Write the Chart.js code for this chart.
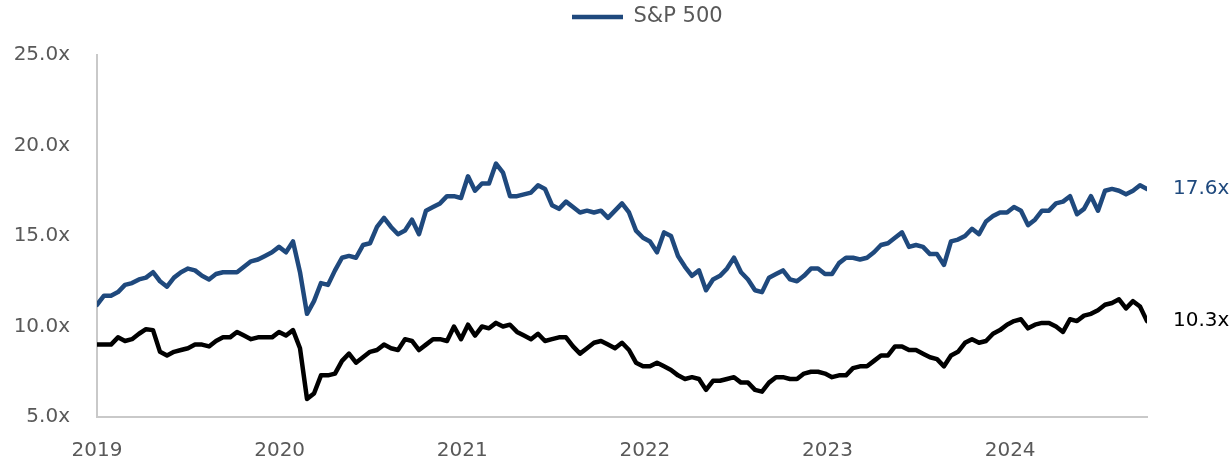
<!DOCTYPE html>
<html>
<head>
<meta charset="utf-8">
<script src="https://cdn.jsdelivr.net/npm/chart.js@4.4.1/dist/chart.umd.min.js"></script>
<style>
  html, body { margin: 0; padding: 0; background: #ffffff; }
  canvas { display: block; }
</style>
</head>
<body>
<canvas id="chart" width="1232" height="465"></canvas>
<script>
// ---------------- DATA ----------------
const seriesNames = ['S&P 500', 'Series 2'];
const startYear = 2019;          // first observation (start of 2019)
const stepDays = 14;             // bi-weekly observations
const yearTicks = [2019, 2020, 2021, 2022, 2023, 2024];
const yTickValues = [5, 10, 15, 20, 25];

// S&P 500 forward P/E (blue)
const spx = [
  11.2, 11.7, 11.7, 11.9, 12.3, 12.4, 12.6, 12.7, 13.0, 12.5,
  12.2, 12.7, 13.0, 13.2, 13.1, 12.8, 12.6, 12.9, 13.0, 13.0,
  13.0, 13.3, 13.6, 13.7, 13.9, 14.1, 14.4, 14.1, 14.7, 13.0,
  10.7, 11.4, 12.4, 12.3, 13.1, 13.8, 13.9, 13.8, 14.5, 14.6,
  15.5, 16.0, 15.5, 15.1, 15.3, 15.9, 15.1, 16.4, 16.6, 16.8,
  17.2, 17.2, 17.1, 18.3, 17.5, 17.9, 17.9, 19.0, 18.5, 17.2,
  17.2, 17.3, 17.4, 17.8, 17.6, 16.7, 16.5, 16.9, 16.6, 16.3,
  16.4, 16.3, 16.4, 16.0, 16.4, 16.8, 16.3, 15.3, 14.9, 14.7,
  14.1, 15.2, 15.0, 13.9, 13.3, 12.8, 13.1, 12.0, 12.6, 12.8,
  13.2, 13.8, 13.0, 12.6, 12.0, 11.9, 12.7, 12.9, 13.1, 12.6,
  12.5, 12.8, 13.2, 13.2, 12.9, 12.9, 13.5, 13.8, 13.8, 13.7,
  13.8, 14.1, 14.5, 14.6, 14.9, 15.2, 14.4, 14.5, 14.4, 14.0,
  14.0, 13.4, 14.7, 14.8, 15.0, 15.4, 15.1, 15.8, 16.1, 16.3,
  16.3, 16.6, 16.4, 15.6, 15.9, 16.4, 16.4, 16.8, 16.9, 17.2,
  16.2, 16.5, 17.2, 16.4, 17.5, 17.6, 17.5, 17.3, 17.5, 17.8,
  17.6
];

// second series (black)
const other = [
  9.0, 9.0, 9.0, 9.4, 9.2, 9.3, 9.6, 9.85, 9.8, 8.6,
  8.4, 8.6, 8.7, 8.8, 9.0, 9.0, 8.9, 9.2, 9.4, 9.4,
  9.7, 9.5, 9.3, 9.4, 9.4, 9.4, 9.7, 9.5, 9.8, 8.8,
  6.0, 6.3, 7.3, 7.3, 7.4, 8.1, 8.5, 8.0, 8.3, 8.6,
  8.7, 9.0, 8.8, 8.7, 9.3, 9.2, 8.7, 9.0, 9.3, 9.3,
  9.2, 10.0, 9.3, 10.1, 9.5, 10.0, 9.9, 10.2, 10.0, 10.1,
  9.7, 9.5, 9.3, 9.6, 9.2, 9.3, 9.4, 9.4, 8.9, 8.5,
  8.8, 9.1, 9.2, 9.0, 8.8, 9.1, 8.7, 8.0, 7.8, 7.8,
  8.0, 7.8, 7.6, 7.3, 7.1, 7.2, 7.1, 6.5, 7.0, 7.0,
  7.1, 7.2, 6.9, 6.9, 6.5, 6.4, 6.9, 7.2, 7.2, 7.1,
  7.1, 7.4, 7.5, 7.5, 7.4, 7.2, 7.3, 7.3, 7.7, 7.8,
  7.8, 8.1, 8.4, 8.4, 8.9, 8.9, 8.7, 8.7, 8.5, 8.3,
  8.2, 7.8, 8.4, 8.6, 9.1, 9.3, 9.1, 9.2, 9.6, 9.8,
  10.1, 10.3, 10.4, 9.9, 10.1, 10.2, 10.2, 10.0, 9.7, 10.4,
  10.3, 10.6, 10.7, 10.9, 11.2, 11.3, 11.5, 11.0, 11.4, 11.1,
  10.3
];

// observation dates expressed as fractional years
const periods = spx.map((_, i) => startYear + i * stepDays / 365.25);

// ---------------- STYLE ----------------
const FONT = "'DejaVu Sans', 'Liberation Sans', sans-serif";
const BLUE = '#1F497D';
const BLACK = '#000000';
const GREY_TEXT = '#595959';
const AXIS_GREY = '#c9c9c9';

const toPoints = arr => arr.map((v, i) => ({ x: periods[i], y: v }));

// legend: extra space below it, and horizontal placement as in the reference
const legendTweaks = {
  id: 'legendTweaks',
  beforeUpdate(chart) {
    const L = chart.legend;
    if (L && !L._fitPatched) {
      const orig = L.fit;
      L.fit = function () { orig.call(this); if (this.height) this.height += 17.5; };
      L._fitPatched = true;
    }
  },
  afterLayout(chart) {
    const L = chart.legend;
    if (L && L.lineWidths && L.lineWidths.length) {
      const p = L.options.labels.padding;
      const start = (L.left + p + L.right - L.lineWidths[0]) / 2;
      const dx = 572 - start;
      L.left += dx;
      L.right += dx;
    }
  }
};

// value labels at the end of each line
const endLabels = {
  id: 'endLabels',
  afterDatasetsDraw(chart) {
    const ctx = chart.ctx;
    chart.data.datasets.forEach((ds, di) => {
      const meta = chart.getDatasetMeta(di);
      if (!meta.data.length) return;
      const pt = meta.data[meta.data.length - 1];
      const v = ds.data[ds.data.length - 1].y;
      ctx.save();
      ctx.font = '20px ' + FONT;
      ctx.fillStyle = ds.borderColor;
      ctx.textAlign = 'left';
      ctx.textBaseline = 'middle';
      ctx.fillText(v.toFixed(1) + 'x', pt.x + 26, pt.y);
      ctx.restore();
    });
  }
};

new Chart(document.getElementById('chart'), {
  type: 'line',
  data: {
    datasets: [
      {
        label: seriesNames[0],
        data: toPoints(spx),
        borderColor: BLUE,
        backgroundColor: BLUE,
        borderWidth: 4.5,
        pointRadius: 0,
        tension: 0,
        borderJoinStyle: 'round',
        borderCapStyle: 'round',
        fill: false
      },
      {
        label: seriesNames[1],
        data: toPoints(other),
        borderColor: BLACK,
        backgroundColor: BLACK,
        borderWidth: 4.5,
        pointRadius: 0,
        tension: 0,
        borderJoinStyle: 'round',
        borderCapStyle: 'round',
        fill: false
      }
    ]
  },
  options: {
    responsive: false,
    animation: false,
    devicePixelRatio: 1,
    layout: { padding: { top: 0, left: 0, right: 85, bottom: 0 } },
    plugins: {
      tooltip: { enabled: false },
      legend: {
        display: true,
        position: 'top',
        align: 'center',
        labels: {
          usePointStyle: true,
          pointStyle: 'line',
          pointStyleWidth: 51,
          color: GREY_TEXT,
          font: { family: FONT, size: 21 },
          padding: 6.5,
          filter: item => item.datasetIndex === 0
        }
      }
    },
    scales: {
      x: {
        type: 'linear',
        min: periods[0],
        max: periods[periods.length - 1],
        grid: { display: false, drawTicks: false },
        border: { display: true, color: AXIS_GREY, width: 2 },
        afterFit(s) { s.height = 48; },
        afterBuildTicks(s) { s.ticks = yearTicks.map(v => ({ value: v })); },
        ticks: {
          autoSkip: false,
          maxRotation: 0,
          padding: 22,
          color: GREY_TEXT,
          font: { family: FONT, size: 20 },
          callback: v => String(Math.round(v))
        }
      },
      y: {
        min: yTickValues[0],
        max: yTickValues[yTickValues.length - 1],
        grid: { display: false, drawTicks: false },
        border: { display: true, color: AXIS_GREY, width: 2 },
        afterFit(s) { s.width = 97; s.paddingTop = 55; },
        afterBuildTicks(s) { s.ticks = yTickValues.map(v => ({ value: v })); },
        ticks: {
          padding: 27,
          color: GREY_TEXT,
          font: { family: FONT, size: 20 },
          callback: v => v.toFixed(1) + 'x'
        }
      }
    }
  },
  plugins: [legendTweaks, endLabels]
});
</script>
</body>
</html>
